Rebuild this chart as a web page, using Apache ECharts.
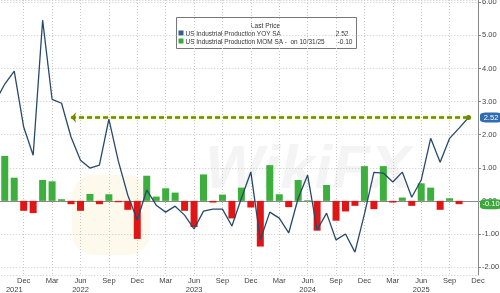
<!DOCTYPE html>
<html><head><meta charset="utf-8">
<script src="https://cdn.jsdelivr.net/npm/echarts@6/dist/echarts.min.js"></script>
<style>html,body{margin:0;padding:0;background:#fff}#c{width:500px;height:293px}</style>
</head><body><div id="c"></div>
<script>
// Monthly categories Sep 2021 .. Dec 2025
const months = ["2021-09","2021-10","2021-11","2021-12",
"2022-01","2022-02","2022-03","2022-04","2022-05","2022-06","2022-07","2022-08","2022-09","2022-10","2022-11","2022-12",
"2023-01","2023-02","2023-03","2023-04","2023-05","2023-06","2023-07","2023-08","2023-09","2023-10","2023-11","2023-12",
"2024-01","2024-02","2024-03","2024-04","2024-05","2024-06","2024-07","2024-08","2024-09","2024-10","2024-11","2024-12",
"2025-01","2025-02","2025-03","2025-04","2025-05","2025-06","2025-07","2025-08","2025-09","2025-10","2025-11","2025-12"];
// US Industrial Production YoY SA
const yoy = [3.0,3.53,3.92,2.23,
1.38,5.46,3.07,2.95,1.93,1.23,0.99,1.08,2.47,1.2,0.17,-0.58,
0.33,-0.13,-0.34,-0.16,-0.43,-0.85,-0.31,-0.25,-0.25,-0.76,0.08,0.87,
-1.18,-0.34,-0.52,-0.97,0.08,0.78,-0.88,-0.37,-1.18,-1.0,-1.55,-0.4,
0.86,0.84,0.57,0.87,0.11,0.63,1.89,1.17,1.89,2.2,2.52,null];
// US Industrial Production MoM SA
const mom = [null,1.36,0.7,-0.3,
-0.37,0.63,0.59,0.05,-0.1,-0.3,0.21,-0.1,0.2,-0.04,-0.27,-1.15,
0.76,0.13,0.38,0.25,-0.3,-0.79,0.8,-0.05,0.19,-0.53,0.4,-0.2,
-1.38,1.08,0.2,-0.19,0.63,0.02,-0.9,0.48,-0.6,-0.32,-0.15,1.05,
-0.25,1.05,-0.05,0.1,-0.15,0.53,0.4,-0.27,0.08,-0.1,null,null];
const monthNames = ["Jan","Feb","Mar","Apr","May","Jun","Jul","Aug","Sep","Oct","Nov","Dec"];
const labelMonths = ["03","06","09","12"];
const yearLabelAt = ["2021-11","2022-06","2023-06","2024-06","2025-06"];
const lastYoY = 2.52, lastMoM = -0.10;
const arrowStart = "2022-05", arrowEnd = "2025-11", tagAt = "2025-12";

const isLabelMonth = (i) => i > 0 && labelMonths.indexOf(months[i].slice(5)) >= 0;
const font = "Liberation Sans, Arial, sans-serif";
const chart = echarts.init(document.getElementById('c'), null, {renderer:'canvas'});
chart.setOption({
  animation:false,
  backgroundColor:'#fff',
  grid:{left:-4.7, right:22, top:0, bottom:18, containLabel:false, outerBoundsMode:'none'},
  xAxis:[{
    type:'category', data:months, boundaryGap:false,
    axisLine:{lineStyle:{color:'#888', width:1}},
    axisTick:{show:true, length:2, lineStyle:{color:'#999'}},
    axisLabel:{interval:(i)=>isLabelMonth(i), formatter:(v)=>monthNames[parseInt(v.slice(5))-1],
      fontSize:7.5, color:'#444', margin:2, fontFamily:font},
    splitLine:{show:true, interval:(i)=>isLabelMonth(i), lineStyle:{color:'#c8c8c8', type:[1,2]}}
  },{
    type:'category', data:months, boundaryGap:false, position:'bottom', offset:9,
    axisLine:{show:false}, axisTick:{show:false}, splitLine:{show:false},
    axisLabel:{interval:(i)=>yearLabelAt.indexOf(months[i])>=0, formatter:(v)=>v.slice(0,4),
      fontSize:7.5, color:'#444', margin:2, fontFamily:font}
  }],
  yAxis:{
    type:'value', position:'right', min:-2.24, max:6.07, splitNumber:8,
    axisLine:{show:true, lineStyle:{color:'#888'}},
    axisTick:{show:true, length:3, lineStyle:{color:'#888'}},
    axisLabel:{formatter:(v)=>v.toFixed(2), fontSize:7.5, color:'#444', margin:4, fontFamily:font,
      showMinLabel:false, showMaxLabel:false},
    splitLine:{show:true, lineStyle:{color:'#c8c8c8', type:[1,2]}}
  },
  series:[{
    type:'bar', name:'MOM', data:mom, barWidth:7,
    itemStyle:{color:(p)=> p.value>=0 ? '#3daf3d' : '#e01515'},
    markPoint:{
      symbol:'roundRect', symbolSize:[22,10], symbolOffset:[13,0], silent:true,
      itemStyle:{color:'#3aa83a'},
      label:{show:true, formatter:()=>lastMoM.toFixed(2), color:'#fff', fontSize:7.5, fontFamily:font},
      data:[{coord:[tagAt, lastMoM]}]
    }
  },{
    type:'line', name:'YOY', data:yoy, symbol:'none',
    lineStyle:{color:'#27496b', width:1.3},
    markLine:{
      silent:true, symbol:['arrow','circle'], symbolSize:[8,5],
      lineStyle:{color:'#6b8a00', type:[5,3], width:2.5, shadowColor:'rgba(220,235,60,0.9)', shadowBlur:3},
      label:{show:false},
      data:[[{coord:[arrowStart, lastYoY]},{coord:[arrowEnd, lastYoY]}]]
    },
    markPoint:{
      symbol:'roundRect', symbolSize:[22,10], symbolOffset:[13,0], silent:true,
      itemStyle:{color:'#2f6db0'},
      label:{show:true, formatter:()=>lastYoY.toFixed(2), color:'#fff', fontSize:7.5, fontFamily:font},
      data:[{coord:[tagAt, lastYoY]}]
    }
  }],
  graphic:[
    {type:'text', left:205, top:140, z:-1, silent:true,
      style:{text:'WikiFX', font:'italic bold 62px '+font, fill:'rgba(170,170,170,0.13)'}},
    {type:'rect', shape:{x:72, y:175, width:78, height:80, r:22}, z:-1, silent:true,
      style:{fill:'rgba(245,225,160,0.2)'}},
    {type:'group', left:176, top:17, children:[
      {type:'rect', shape:{x:0,y:0,width:180,height:31}, style:{fill:'#fff', stroke:'#777', lineWidth:1}},
      {type:'text', x:89, y:4, scaleX:0.88, style:{text:'Last Price', font:'7.5px '+font, fill:'#333', align:'center'}},
      {type:'rect', shape:{x:2,y:13,width:5,height:5}, style:{fill:'#2f5f96'}},
      {type:'text', x:9, y:12, scaleX:0.86, style:{text:'US Industrial Production YOY SA', font:'7.5px '+font, fill:'#333'}},
      {type:'text', x:172, y:12, scaleX:0.88, style:{text:lastYoY.toFixed(2), font:'7.5px '+font, fill:'#333', align:'right'}},
      {type:'rect', shape:{x:2,y:21,width:5,height:5}, style:{fill:'#3aa83a'}},
      {type:'text', x:9, y:20, scaleX:0.86, style:{text:'US Industrial Production MOM SA -  on 10/31/25', font:'7.5px '+font, fill:'#333'}},
      {type:'text', x:176, y:20, scaleX:0.88, style:{text:lastMoM.toFixed(2), font:'7.5px '+font, fill:'#333', align:'right'}}
    ]}
  ]
});
</script></body></html>
